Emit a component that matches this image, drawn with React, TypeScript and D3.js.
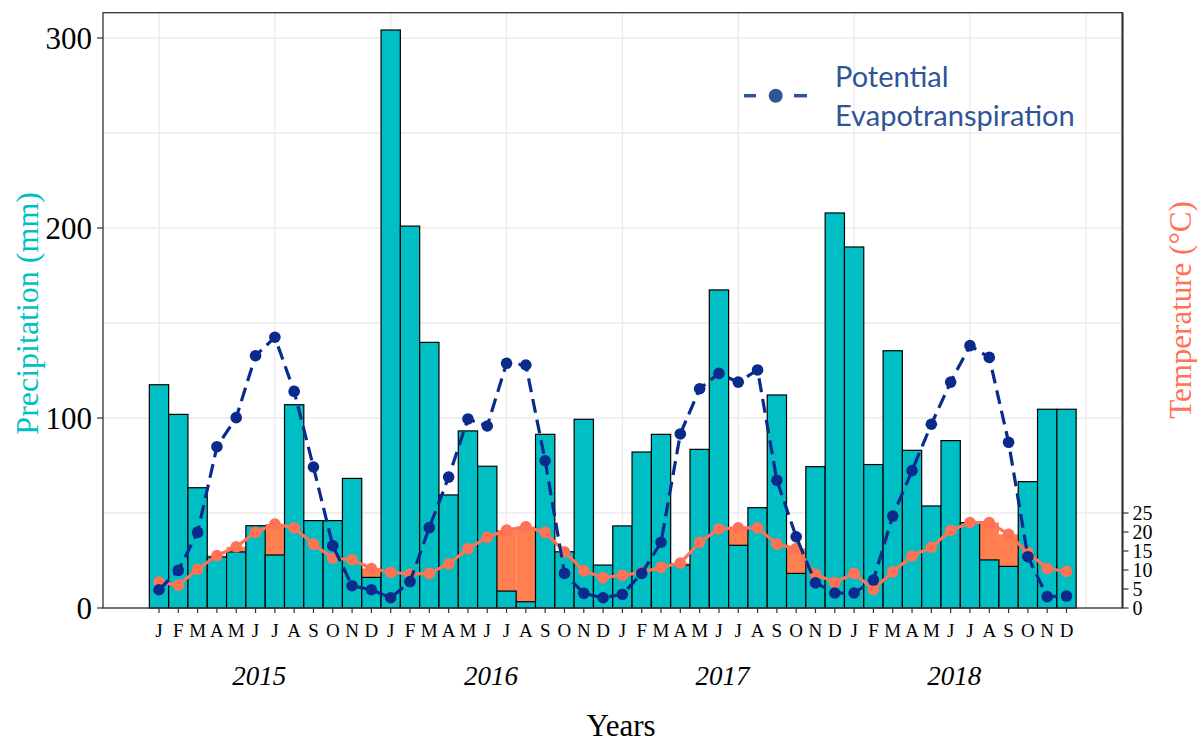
import React from "react";
import * as d3 from "d3";

const monthLabels = ["J", "F", "M", "A", "M", "J", "J", "A", "S", "O", "N", "D"];
const years = ["2015", "2016", "2017", "2018"];

// Precipitation (mm), monthly Jan 2015 - Dec 2018
const precipitation = [
  117.5, 101.9, 63.3, 26.8, 29.5, 43.3, 27.9, 107, 46, 46, 68.2, 16.1,
  304.2, 201, 139.8, 59.5, 93.2, 74.6, 8.9, 3.3, 91.4, 29.6, 99.3, 22.6,
  43.2, 82.1, 91.4, 22.6, 83.5, 167.4, 33, 52.8, 112.1, 18.2, 74.4, 207.9,
  190, 75.5, 135.4, 83, 53.7, 88.1, 44.9, 25.3, 21.9, 66.5, 104.6, 104.6,
];

// Mean temperature (°C)
const temperature = [
  6.8, 6.0, 10.2, 13.8, 16.1, 19.9, 22.1, 21.1, 16.8, 13.1, 12.7, 10.4,
  9.4, 8.9, 9.1, 11.6, 15.6, 18.6, 20.5, 21.4, 19.9, 14.8, 9.8, 8.0,
  8.6, 9.4, 10.7, 11.8, 17.3, 20.8, 21.1, 21.1, 16.8, 15.7, 8.9, 6.7,
  9.1, 4.9, 9.5, 13.7, 16.0, 20.4, 22.5, 22.5, 19.4, 14.6, 10.4, 9.6,
];

// Potential evapotranspiration (mm)
const pet = [
  9.6, 19.8, 39.8, 84.9, 100.2, 132.8, 142.5, 114, 74.2, 32.8, 11.7, 9.6,
  5.4, 13.9, 42.3, 68.9, 99.5, 95.8, 128.8, 127.9, 77.5, 18.2, 7.7, 5.4,
  7.2, 18.2, 34.6, 91.6, 115.4, 123.5, 118.9, 125.3, 67.2, 37.5, 13.2, 7.9,
  7.9, 14.7, 48.4, 72.3, 96.7, 118.9, 138.1, 131.9, 87.2, 27, 6, 6.3,
];

const precipTicks = [0, 100, 200, 300];
const precipGrid = [0, 50, 100, 150, 200, 250, 300];
const tempTicks = [0, 5, 10, 15, 20, 25];

const W = 1197;
const H = 742;
const PL = 103;
const PR = 1122.5;
const PT = 12.7;
const PB = 608;

const SERIF = "'Liberation Serif', 'Times New Roman', serif";
const TEAL = "#00BFC4";
const CORAL_FILL = "#FF7F50";
const CORAL_LINE = "#FF7256";
const NAVY = "#0B2B8C";
const LEGEND_BLUE = "#2F5597";

export default function App() {
  const n = precipitation.length;
  const idx = d3.range(n);
  const x = d3.scaleLinear().domain([-2.9, n + 1.9]).range([PL, PR]);
  const y = d3.scaleLinear().domain([0, 300]).range([PB, 38]);
  const yT = d3.scaleLinear().domain([0, 150]).range([PB, 38]); // temperature axis (°C)
  const bw = x(0.5) - x(-0.5);

  const tempLine = d3
    .line<number>()
    .x((_, i) => x(i))
    .y((d) => yT(d));
  const petLine = d3
    .line<number>()
    .x((_, i) => x(i))
    .y((d) => y(d));

  const vGrid = d3.range(0, n + 1, 6);

  return (
    <svg
      width={W}
      height={H}
      style={{ position: "absolute", left: 0, top: 0, background: "#fff" }}
    >
      <rect x={0} y={0} width={W} height={H} fill="#fff" />
      {/* grid */}
      {precipGrid.map((v) => (
        <line key={"hg" + v} x1={PL} x2={PR} y1={y(v)} y2={y(v)} stroke="#EBEBEB" strokeWidth={1.3} />
      ))}
      {vGrid.map((v) => (
        <line key={"vg" + v} x1={x(v)} x2={x(v)} y1={PT} y2={PB} stroke="#EBEBEB" strokeWidth={1.3} />
      ))}

      {/* temperature bars (behind) */}
      {idx.map((i) => (
        <rect
          key={"tb" + i}
          x={x(i) - bw / 2}
          y={yT(temperature[i])}
          width={bw}
          height={PB - yT(temperature[i])}
          fill={CORAL_FILL}
        />
      ))}
      {/* precipitation bars */}
      {idx.map((i) => (
        <rect
          key={"pb" + i}
          x={x(i) - bw / 2}
          y={y(precipitation[i])}
          width={bw}
          height={PB - y(precipitation[i])}
          fill={TEAL}
          stroke="#000"
          strokeWidth={1.2}
        />
      ))}

      {/* temperature line */}
      <path d={tempLine(temperature) || ""} fill="none" stroke={CORAL_LINE} strokeWidth={3.2} />
      {idx.map((i) => (
        <circle key={"tc" + i} cx={x(i)} cy={yT(temperature[i])} r={5.8} fill={CORAL_LINE} />
      ))}

      {/* PET line */}
      <path
        d={petLine(pet) || ""}
        fill="none"
        stroke={NAVY}
        strokeWidth={3.2}
        strokeDasharray="14,7"
      />
      {idx.map((i) => (
        <circle key={"pc" + i} cx={x(i)} cy={y(pet[i])} r={5.8} fill={NAVY} />
      ))}

      {/* panel border */}
      <rect x={PL} y={PT} width={PR - PL} height={PB - PT} fill="none" stroke="#333" strokeWidth={1.3} />
      <line x1={PR} x2={PR} y1={PT} y2={PB} stroke="#333" strokeWidth={2} />

      {/* left axis */}
      {precipTicks.map((v) => (
        <g key={"lt" + v}>
          <line x1={PL - 6} x2={PL} y1={y(v)} y2={y(v)} stroke="#333" strokeWidth={1.2} />
          <text
            x={PL - 11}
            y={y(v)}
            textAnchor="end"
            dominantBaseline="central"
            fontFamily={SERIF}
            fontSize={31}
            fill="#000"
          >
            {v}
          </text>
        </g>
      ))}
      <text
        transform={`translate(27,${(PT + PB) / 2 + 3}) rotate(-90)`}
        textAnchor="middle"
        dominantBaseline="central"
        fontFamily={SERIF}
        fontSize={32}
        fill={TEAL}
      >
        Precipitation (mm)
      </text>

      {/* right axis */}
      {tempTicks.map((v) => (
        <g key={"rt" + v}>
          <line x1={PR} x2={PR + 6} y1={yT(v)} y2={yT(v)} stroke="#333" strokeWidth={1.2} />
          <text
            x={PR + 10}
            y={yT(v)}
            dominantBaseline="central"
            fontFamily={SERIF}
            fontSize={20}
            fill="#000"
          >
            {v}
          </text>
        </g>
      ))}
      <text
        transform={`translate(1180,${310}) rotate(-90)`}
        textAnchor="middle"
        dominantBaseline="central"
        fontFamily={SERIF}
        fontSize={31}
        fill={CORAL_LINE}
      >
        Temperature (°C)
      </text>

      {/* x axis ticks & month labels */}
      {idx.map((i) => (
        <g key={"xt" + i}>
          <line x1={x(i)} x2={x(i)} y1={PB} y2={PB + 5} stroke="#333" strokeWidth={1.2} />
          <text x={x(i)} y={637} textAnchor="middle" fontFamily={SERIF} fontSize={19} fill="#000">
            {monthLabels[i % 12]}
          </text>
        </g>
      ))}
      {years.map((yr, k) => (
        <text
          key={"yr" + yr}
          x={x(k * 12 + 5.5) - 6}
          y={685}
          textAnchor="middle"
          fontFamily={SERIF}
          fontStyle="italic"
          fontSize={27}
          fill="#000"
        >
          {yr}
        </text>
      ))}
      <text x={621} y={736} textAnchor="middle" fontFamily={SERIF} fontSize={31} fill="#000">
        Years
      </text>

      {/* legend */}
      <g>
        <line x1={744} x2={756} y1={95.7} y2={95.7} stroke={LEGEND_BLUE} strokeWidth={3.5} />
        <line x1={794} x2={807} y1={95.7} y2={95.7} stroke={LEGEND_BLUE} strokeWidth={3.5} />
        <circle cx={775.7} cy={95.7} r={7} fill={LEGEND_BLUE} />
        <text x={835} y={87} fontFamily="Lato, 'Open Sans', sans-serif" fontSize={29} fill={LEGEND_BLUE}>
          Potential
        </text>
        <text x={835} y={126} fontFamily="Lato, 'Open Sans', sans-serif" fontSize={29} fill={LEGEND_BLUE}>
          Evapotranspiration
        </text>
      </g>
    </svg>
  );
}
